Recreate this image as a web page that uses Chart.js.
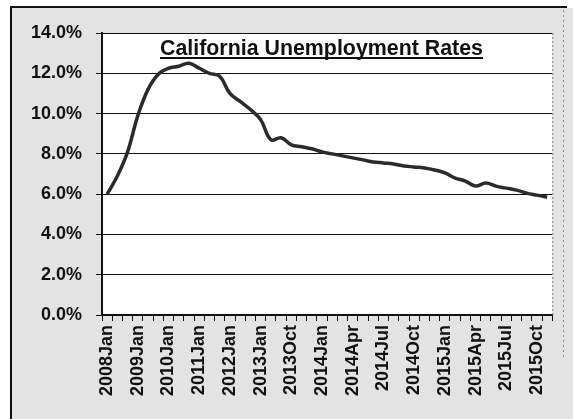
<!DOCTYPE html>
<html>
<head>
<meta charset="utf-8">
<script src="https://cdn.jsdelivr.net/npm/chart.js@4.4.1/dist/chart.umd.min.js"></script>
<style>
  html, body { margin: 0; padding: 0; background: #ffffff; }
  #wrap { width: 573px; height: 419px; position: relative; }
  canvas { display: block; }
</style>
</head>
<body>
<div id="wrap"><canvas id="c" width="573" height="419"></canvas></div>
<script>
// ---- data ----
const categories = ['2008Jan','2008May','2008Sep','2009Jan','2009May','2009Sep','2010Jan','2010May','2010Sep',
  '2011Jan','2011May','2011Sep','2012Jan','2012May','2012Sep','2013Jan','2013Apr','2013Jul','2013Oct',
  '2013Nov','2013Dec','2014Jan','2014Feb','2014Mar','2014Apr','2014May','2014Jun','2014Jul','2014Aug',
  '2014Sep','2014Oct','2014Nov','2014Dec','2015Jan','2015Feb','2015Mar','2015Apr','2015May','2015Jun',
  '2015Jul','2015Aug','2015Sep','2015Oct','2015Nov'];
const unemploymentRate = [6.0, 6.9, 8.1, 9.9, 11.2, 11.95, 12.25, 12.35, 12.5, 12.25, 12.0, 11.85,
  11.0, 10.6, 10.2, 9.7, 8.7, 8.8, 8.45, 8.35, 8.25, 8.1, 8.0, 7.9, 7.8, 7.7, 7.6, 7.55, 7.5, 7.4,
  7.35, 7.3, 7.2, 7.05, 6.8, 6.65, 6.4, 6.55, 6.4, 6.3, 6.2, 6.05, 5.95, 5.85];
const labelEvery = 3;
const yTicks = [0, 2, 4, 6, 8, 10, 12, 14];
const chartTitle = 'California Unemployment Rates';

const FONT = '"Liberation Sans", Arial, sans-serif';

const backgroundPlugin = {
  id: 'scanBackground',
  beforeDraw(chart) {
    const ctx = chart.ctx;
    const ca = chart.chartArea;
    ctx.save();
    ctx.fillStyle = '#ffffff';
    ctx.fillRect(0, 0, chart.width, chart.height);
    ctx.fillStyle = '#e3e3e3';
    ctx.fillRect(11, 8, chart.width - 11, chart.height - 8);
    ctx.strokeStyle = '#111';
    ctx.lineWidth = 2;
    ctx.beginPath();
    ctx.moveTo(11, chart.height);
    ctx.lineTo(11, 7);
    ctx.lineTo(567, 7);
    ctx.stroke();
    ctx.strokeStyle = '#888';
    ctx.lineWidth = 1;
    ctx.setLineDash([2, 3]);
    ctx.beginPath();
    ctx.moveTo(563.5, 10);
    ctx.lineTo(563.5, 360);
    ctx.stroke();
    ctx.setLineDash([]);
    ctx.fillStyle = '#ffffff';
    ctx.fillRect(ca.left, ca.top, ca.right - ca.left, ca.bottom - ca.top);
    ctx.restore();
  },
  afterDatasetsDraw(chart) {
    const ctx = chart.ctx;
    const ca = chart.chartArea;
    ctx.save();
    ctx.strokeStyle = '#777';
    ctx.lineWidth = 1;
    ctx.setLineDash([2, 2]);
    ctx.beginPath();
    ctx.moveTo(ca.right + 0.5, ca.top);
    ctx.lineTo(ca.right + 0.5, ca.bottom);
    ctx.stroke();
    ctx.setLineDash([]);
    ctx.fillStyle = '#111';
    ctx.font = 'bold 22px ' + FONT;
    ctx.textBaseline = 'alphabetic';
    ctx.textAlign = 'left';
    const w = ctx.measureText(chartTitle).width;
    const targetW = 323;
    const cx = 321.5;
    const sx = targetW / w;
    ctx.translate(cx - targetW / 2, 55);
    ctx.scale(sx, 1);
    ctx.fillText(chartTitle, 0, 0);
    ctx.setTransform(1, 0, 0, 1, 0, 0);
    ctx.fillRect(cx - targetW / 2, 57, targetW, 2);
    ctx.restore();
  }
};

new Chart(document.getElementById('c'), {
  type: 'line',
  data: {
    labels: categories,
    datasets: [{
      data: unemploymentRate,
      borderColor: '#2b2b2b',
      borderWidth: 3.5,
      pointRadius: 0,
      tension: 0.4,
      fill: false
    }]
  },
  options: {
    responsive: false,
    animation: false,
    devicePixelRatio: 1,
    layout: { padding: { left: 0, top: 33, right: 16, bottom: 0 } },
    plugins: { legend: { display: false }, title: { display: false }, tooltip: { enabled: false } },
    scales: {
      x: {
        type: 'category',
        offset: true,
        grid: {
          offset: true,
          drawOnChartArea: false,
          drawTicks: true,
          tickLength: 6,
          color: '#111',
          lineWidth: 1
        },
        border: { display: true, color: '#111', width: 2 },
        ticks: {
          autoSkip: false,
          minRotation: 90,
          maxRotation: 90,
          padding: 4,
          color: '#111',
          font: { family: FONT, size: 18, weight: 'bold' },
          callback: (v, i) => (i % labelEvery === 0 ? categories[i] : '')
        },
        afterFit: (s) => { s.height = 104; }
      },
      y: {
        min: 0,
        max: 14,
        afterBuildTicks: (s) => { s.ticks = yTicks.map(v => ({ value: v })); },
        grid: {
          color: '#111',
          lineWidth: 1,
          drawTicks: true,
          tickLength: 6
        },
        border: { display: true, color: '#111', width: 2 },
        ticks: {
          padding: 14,
          color: '#111',
          font: { family: FONT, size: 18, weight: 'bold' },
          callback: (v) => Number(v).toFixed(1) + '%'
        },
        afterFit: (s) => { s.width = 102; }
      }
    }
  },
  plugins: [backgroundPlugin]
});
</script>
</body>
</html>
